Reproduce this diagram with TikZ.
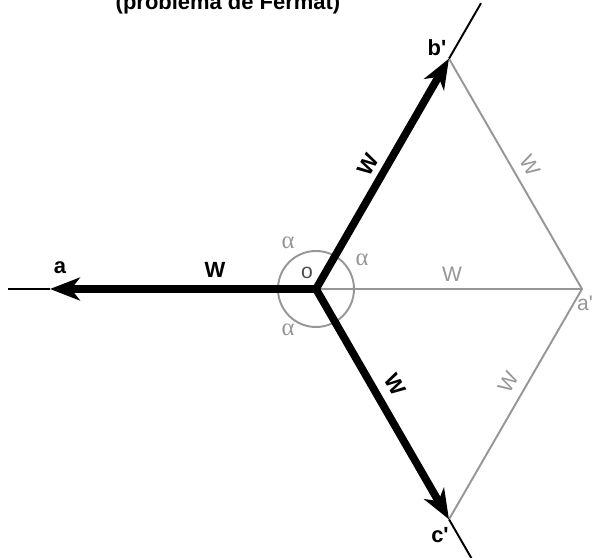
\documentclass[tikz,border=0pt]{standalone}
\usepackage{fontspec}
\setmainfont{Liberation Sans}
\newfontfamily\greekfont{Liberation Serif}
\usetikzlibrary{arrows.meta}
\definecolor{greyline}{RGB}{150,150,150}

\begin{document}
\begin{tikzpicture}[x=0.02cm,y=0.02cm,
    force/.style={line width=4.4pt,-{Stealth[length=17pt,width=13pt,inset=5pt]}},
    ray/.style={line width=1.1pt},
    aux/.style={greyline,line width=1.1pt},
    blbl/.style={font=\fontsize{12.5}{14}\selectfont\bfseries},
    glbl/.style={greyline,font=\fontsize{12}{14}\selectfont},
    angl/.style={greyline,font=\fontsize{14}{16}\greekfont}]
  \useasboundingbox (-316,-269) rectangle (277,289);

  \coordinate (O) at (0,0);
  \coordinate (a) at (180:266);
  \coordinate (b) at (60:266);
  \coordinate (c) at (-60:266);
  \coordinate (ap) at (0:266);
  \coordinate (aout) at (180:308);
  \coordinate (bout) at (60:330);
  \coordinate (cout) at (-60:330);

  % triangulos auxiliares
  \draw[aux] (O) circle (38);
  \draw[aux] (O) -- (ap) (b) -- (ap) -- (c);

  \path[ray] (a) edge (aout) (b) edge (bout) (c) edge (cout);
  \draw[force] (O) -- (a);
  \draw[force] (O) -- (b);
  \draw[force] (O) -- (c);

  \node[blbl,anchor=base] (title) at (-88,279) {(problema de Fermat)};

  \node[blbl] (la) at (-256,21) {a};
  \node[blbl] (lb) at (121,241) {b\textquotesingle};
  \node[blbl] (lc) at (124,-246) {c\textquotesingle};
  \node[glbl] (lap) at (269,-14) {a\textquotesingle};
  \node[font=\fontsize{12}{14}\selectfont,black!70] (lo) at (-9,16) {o};

  \node[angl] (al1) at (-28,46) {α};
  \node[angl] (al2) at (46,29) {α};
  \node[angl] (al3) at (-28,-41) {α};

  \node[blbl] (wa) at (-101,19) {W};
  \node[blbl,rotate=60] (wb) at (52,124) {W};
  \node[blbl,rotate=-60] (wc) at (79,-96) {W};
  \node[glbl] (w1) at (136,15) {W};
  \node[glbl,rotate=-60] (w2) at (214,124) {W};
  \node[glbl,rotate=60] (w3) at (192,-93) {W};
\end{tikzpicture}
\end{document}
